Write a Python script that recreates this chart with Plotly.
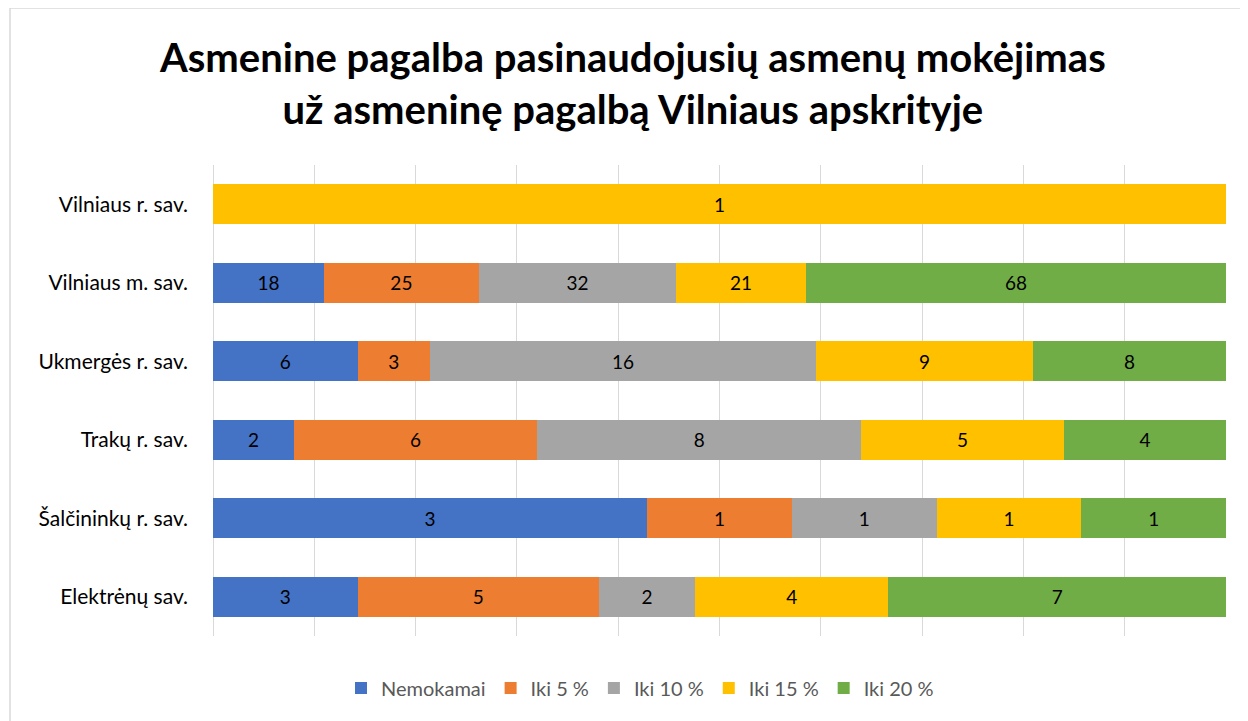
import plotly.graph_objects as go

categories = ["Elektrėnų sav.", "Šalčininkų r. sav.", "Trakų r. sav.",
              "Ukmergės r. sav.", "Vilniaus m. sav.", "Vilniaus r. sav."]
series_names = ["Nemokamai", "Iki 5 %", "Iki 10 %", "Iki 15 %", "Iki 20 %"]
nemokamai = [3, 3, 2, 6, 18, 0]
iki5 = [5, 1, 6, 3, 25, 0]
iki10 = [2, 1, 8, 16, 32, 0]
iki15 = [4, 1, 5, 9, 21, 1]
iki20 = [7, 1, 4, 8, 68, 0]
colors = ["#4472C4", "#ED7D31", "#A5A5A5", "#FFC000", "#70AD47"]
title_text = ("<b>Asmenine pagalba pasinaudojusių asmenų mokėjimas<br>"
              "už asmeninę pagalbą Vilniaus apskrityje</b>")

series = [nemokamai, iki5, iki10, iki15, iki20]

fig = go.Figure()
for name, vals, col in zip(series_names, series, colors):
    fig.add_trace(go.Bar(
        y=categories, x=vals, name=name, orientation="h",
        marker=dict(color=col, line=dict(width=0)),
        text=[str(v) if v else "" for v in vals],
        texttemplate="%{text}",
        textposition="inside", insidetextanchor="middle",
        textangle=0, constraintext="none",
        textfont=dict(color="#000000", size=19, family="Lato"),
    ))

# page body adds an 8px offset; compensate so the plot lands at 213..1226 x 163..635
OFF = 8
W, H = 1248, 721
L, R, T, B = 213 - OFF, 22 + OFF, 165 - OFF, 85 + OFF
pw, ph = 1013, 471


def px(x):
    return (x - 213) / pw


def py(y):
    return (636 - y) / ph


fig.update_layout(
    width=W, height=H,
    barmode="stack", barnorm="percent", bargap=0.49,
    paper_bgcolor="white", plot_bgcolor="white",
    margin=dict(l=L, r=R, t=T, b=B),
    font=dict(family="Lato", color="#000000"),
    xaxis=dict(range=[0, 100], dtick=10, showticklabels=False,
               showgrid=True, gridcolor="#D9D9D9", gridwidth=1,
               zeroline=True, zerolinecolor="#D9D9D9", zerolinewidth=1,
               showline=False, fixedrange=True),
    yaxis=dict(showgrid=False, ticks="", ticklabelstandoff=24,
               tickfont=dict(size=21, family="Lato", color="#000000"),
               showline=False),
    legend=dict(orientation="h", x=px(640), xanchor="center",
                y=py(688), yanchor="middle",
                font=dict(size=20, family="Lato", color="#595959"),
                itemwidth=30, traceorder="normal"),
    annotations=[dict(text=title_text, xref="paper", yref="paper",
                      x=px(632), y=py(83), xanchor="center", yanchor="middle",
                      showarrow=False, align="center",
                      font=dict(size=40, family="Lato", color="#000000"))],
    shapes=[dict(type="rect", xref="paper", yref="paper",
                 x0=px(10), x1=px(1270),
                 y0=py(740), y1=py(8),
                 line=dict(color="#D9D9D9", width=1.5), fillcolor="rgba(0,0,0,0)",
                 layer="below")],
)

fig.write_html("out.html")
